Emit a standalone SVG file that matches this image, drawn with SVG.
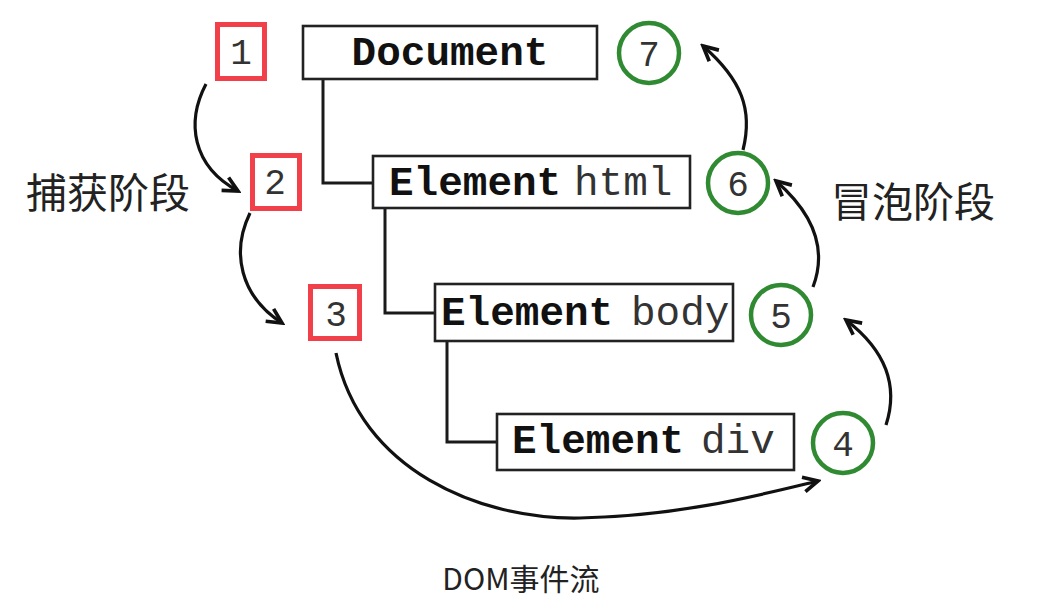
<svg xmlns="http://www.w3.org/2000/svg" width="1058" height="614" viewBox="0 0 1058 614">
<defs>
<marker id="ah" viewBox="0 0 20 20" refX="17" refY="10" markerWidth="21" markerHeight="21" markerUnits="userSpaceOnUse" orient="auto">
<path d="M3,3 L17,10 L3,17" fill="none" stroke="#111" stroke-width="3.5" stroke-linejoin="miter"/>
</marker>
</defs>
<style>
.box{fill:#fff;stroke:#222;stroke-width:2.6}
.tree{fill:none;stroke:#1a1a1a;stroke-width:3}
.arr{fill:none;stroke:#111;stroke-width:3.2;marker-end:url(#ah)}
.red{fill:#fff;stroke:#f2404a;stroke-width:5}
.grn{fill:#fff;stroke:#2f8a32;stroke-width:4.5}
.mb{font-family:"Liberation Mono",monospace;font-weight:bold;font-size:41px;fill:#111}
.mr{font-family:"Liberation Mono",monospace;font-weight:normal;font-size:41px;fill:#333}
.num{font-family:"Liberation Mono",monospace;font-size:36px;fill:#333;text-anchor:middle}
.cn{font-family:"Noto Sans CJK SC","Noto Sans",sans-serif;font-size:41px;fill:#222}
.cap{font-family:"Noto Sans CJK SC","Noto Sans",sans-serif;font-size:30px;fill:#222;text-anchor:middle}
</style>
<rect width="1058" height="614" fill="#fff"/>
<g id="connectors">
<path class="tree" d="M323,79 V183 H373"/>
<path class="tree" d="M385,208 V313 H435"/>
<path class="tree" d="M447,341 V442 H497"/>
<path class="arr" d="M206,84 C186,122 192,166 238,191"/>
<path class="arr" d="M250,213 C231,252 240,296 282,323"/>
<path class="arr" d="M336,353 C360,470 480,520 580,518 C680,516 760,495 818,481"/>
<path class="arr" d="M886,425 C899,385 885,350 846,320"/>
<path class="arr" d="M813,287 C827,250 815,215 776,181"/>
<path class="arr" d="M743,150 C753,110 742,80 703,46"/>
</g>
<g id="document">
<rect class="box" x="303" y="26" width="294" height="53"/>
<text class="mb" x="450" y="65" text-anchor="middle">Document</text>
</g>
<g id="html">
<rect class="box" x="373" y="156" width="317" height="52"/>
<text class="mb" x="389" y="195">Element</text>
<text class="mr" x="574" y="195">html</text>
</g>
<g id="body">
<rect class="box" x="435" y="284" width="298" height="57"/>
<text class="mb" x="441" y="325">Element</text>
<text class="mr" x="631" y="325">body</text>
</g>
<g id="div">
<rect class="box" x="497" y="414" width="297" height="56"/>
<text class="mb" x="512" y="453">Element</text>
<text class="mr" x="701" y="453">div</text>
</g>
<g id="step1">
<rect class="red" x="217.5" y="24.5" width="47" height="54"/>
<text class="num" x="241" y="64" font-size="38">1</text>
</g>
<g id="step2">
<rect class="red" x="252.5" y="155.5" width="47" height="53"/>
<text class="num" x="275" y="194" font-size="38">2</text>
</g>
<g id="step3">
<rect class="red" x="310.5" y="286.5" width="49" height="52"/>
<text class="num" x="336" y="326" font-size="38">3</text>
</g>
<g id="step4">
<circle class="grn" cx="843" cy="443" r="30"/>
<text class="num" x="843" y="456">4</text>
</g>
<g id="step5">
<circle class="grn" cx="781" cy="315" r="30"/>
<text class="num" x="781" y="328">5</text>
</g>
<g id="step6">
<circle class="grn" cx="738" cy="183" r="30"/>
<text class="num" x="738" y="196">6</text>
</g>
<g id="step7">
<circle class="grn" cx="649" cy="53" r="30"/>
<text class="num" x="649" y="66">7</text>
</g>
<g id="labels">
<text class="cn" x="26" y="208">捕获阶段</text>
<text class="cn" x="831" y="217">冒泡阶段</text>
<text class="cap" x="521" y="590">DOM事件流</text>
</g>
</svg>
